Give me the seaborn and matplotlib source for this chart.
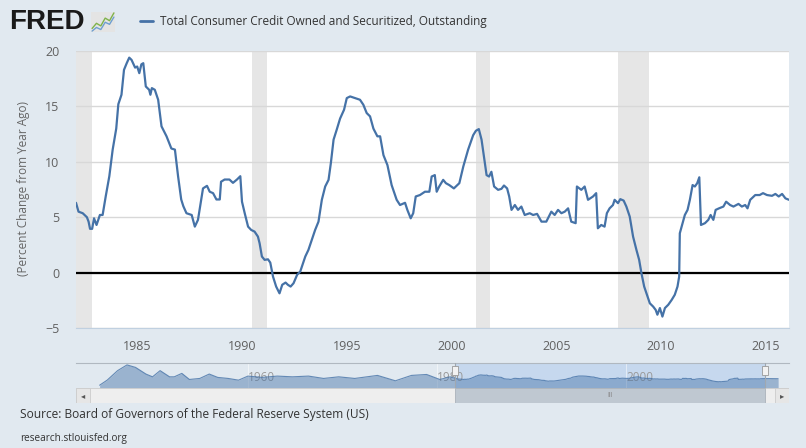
import matplotlib
matplotlib.use("Agg")
import matplotlib.pyplot as plt
import matplotlib.patches as mpatches
import seaborn as sns
import numpy as np
import pandas as pd

# percent change from year ago (decimal years)
years = [1982.08, 1982.2, 1982.4, 1982.6, 1982.68, 1982.75, 1982.85, 1982.94, 1983.06, 1983.22,
         1983.35, 1983.5, 1983.67, 1983.83, 1984.0, 1984.1, 1984.25, 1984.37, 1984.5, 1984.62,
         1984.73, 1984.9, 1985.0, 1985.1, 1985.2, 1985.29, 1985.41, 1985.57, 1985.63, 1985.7,
         1985.84, 1986.0, 1986.16, 1986.4, 1986.63, 1986.8, 1986.95, 1987.1, 1987.2, 1987.35,
         1987.6, 1987.75, 1987.9, 1988.14, 1988.33, 1988.46, 1988.62, 1988.78, 1988.94, 1989.0,
         1989.17, 1989.4, 1989.57, 1989.76, 1989.92, 1990.0, 1990.13, 1990.29, 1990.44, 1990.6,
         1990.76, 1990.84, 1990.95, 1991.08, 1991.24, 1991.35, 1991.48, 1991.63, 1991.79, 1991.92,
         1992.08, 1992.19, 1992.32, 1992.46, 1992.63, 1992.78, 1993.02, 1993.17, 1993.33, 1993.49,
         1993.65, 1993.81, 1993.97, 1994.13, 1994.24, 1994.37, 1994.52, 1994.68, 1994.87, 1995.0,
         1995.16, 1995.4, 1995.63, 1995.79, 1995.95, 1996.11, 1996.27, 1996.46, 1996.59, 1996.75,
         1996.94, 1997.14, 1997.38, 1997.54, 1997.78, 1997.89, 1998.05, 1998.17, 1998.29, 1998.49,
         1998.73, 1998.94, 1999.05, 1999.2, 1999.29, 1999.41, 1999.6, 1999.73, 1999.89, 2000.11,
         2000.37, 2000.56, 2000.79, 2001.03, 2001.16, 2001.3, 2001.43, 2001.54, 2001.67, 2001.79,
         2001.9, 2002.03, 2002.22, 2002.38, 2002.5, 2002.65, 2002.75, 2002.86, 2003.02, 2003.17,
         2003.33, 2003.49, 2003.73, 2003.89, 2004.08, 2004.29, 2004.52, 2004.76, 2004.92, 2005.08,
         2005.24, 2005.4, 2005.56, 2005.71, 2005.92, 2005.98, 2006.19, 2006.35, 2006.51, 2006.75,
         2006.9, 2006.98, 2007.14, 2007.3, 2007.41, 2007.54, 2007.7, 2007.78, 2007.94, 2008.05,
         2008.21, 2008.34, 2008.5, 2008.66, 2008.82, 2008.95, 2009.06, 2009.19, 2009.35, 2009.46,
         2009.62, 2009.74, 2009.82, 2009.94, 2010.06, 2010.18, 2010.34, 2010.5, 2010.65, 2010.78,
         2010.86, 2010.89, 2011.02, 2011.13, 2011.26, 2011.37, 2011.5, 2011.61, 2011.72, 2011.82,
         2011.9, 2012.09, 2012.25, 2012.36, 2012.49, 2012.6, 2012.76, 2012.97, 2013.1, 2013.29,
         2013.45, 2013.69, 2013.85, 2014.01, 2014.12, 2014.25, 2014.49, 2014.7, 2014.86, 2015.05,
         2015.29, 2015.45, 2015.61, 2015.77, 2015.93, 2016.1]
values = [6.3, 5.5, 5.36, 5.0, 4.6, 3.95, 3.95, 4.9, 4.3, 5.2,
          5.2, 6.9, 8.7, 11.1, 13.0, 15.2, 16.05, 18.3, 18.9, 19.4,
          19.2, 18.5, 18.6, 18.0, 18.8, 18.9, 16.8, 16.5, 16.05, 16.65,
          16.5, 15.6, 13.2, 12.3, 11.2, 11.1, 8.7, 6.6, 6.0, 5.36,
          5.2, 4.15, 4.76, 7.6, 7.83, 7.3, 7.17, 6.6, 6.6, 8.2,
          8.4, 8.4, 8.1, 8.4, 8.7, 6.4, 5.36, 4.15, 3.85, 3.7,
          3.25, 2.65, 1.45, 1.15, 1.2, 0.9, -0.36, -1.26, -1.87, -1.1,
          -0.9, -1.1, -1.26, -0.96, -0.2, 0.1, 1.45, 2.05, 2.95, 3.85,
          4.6, 6.57, 7.77, 8.37, 9.88, 12.0, 12.9, 13.9, 14.7, 15.75,
          15.9, 15.75, 15.6, 15.15, 14.4, 14.1, 13.0, 12.3, 12.3, 10.6,
          9.7, 7.9, 6.57, 6.1, 6.3, 5.66, 4.9, 5.36, 6.87, 7.0,
          7.3, 7.3, 8.67, 8.8, 7.3, 7.77, 8.37, 8.07, 7.9, 7.6,
          8.07, 9.58, 11.1, 12.4, 12.8, 12.95, 12.0, 10.5, 8.8, 8.67,
          9.1, 7.77, 7.47, 7.56, 7.86, 7.6, 6.87, 5.66, 6.1, 5.66,
          5.96, 5.2, 5.36, 5.2, 5.3, 4.6, 4.6, 5.5, 5.2, 5.66,
          5.36, 5.5, 5.8, 4.6, 4.46, 7.77, 7.47, 7.77, 6.57, 6.87,
          7.17, 4.0, 4.3, 4.15, 5.36, 5.8, 6.1, 6.57, 6.27, 6.63,
          6.5, 5.96, 5.06, 3.25, 2.05, 1.15, -0.06, -1.26, -2.17, -2.77,
          -3.07, -3.37, -3.8, -3.2, -3.97, -3.2, -2.9, -2.47, -2.0, -1.26,
          -0.36, 3.55, 4.46, 5.2, 5.66, 6.57, 7.9, 7.77, 8.07, 8.6,
          4.3, 4.46, 4.76, 5.2, 4.76, 5.66, 5.8, 5.96, 6.4, 6.1,
          5.96, 6.2, 5.96, 6.1, 5.8, 6.57, 7.0, 7.0, 7.17, 7.0,
          6.93, 7.1, 6.87, 7.1, 6.7, 6.57]

# navigator: earlier history, coarse reading of the mini chart
nav_years = [1944.3, 1945.1, 1946.2, 1947.2, 1948.1, 1949.2, 1949.9, 1950.7, 1951.7, 1952.2,
             1953.0, 1953.8, 1954.9, 1955.9, 1956.8, 1957.9, 1959.0, 1960.0, 1961.5, 1963.1,
             1964.7, 1966.4, 1968.0, 1969.6, 1971.3, 1973.7, 1975.6, 1977.3, 1978.9, 1980.3,
             1981.4]
nav_values = [-15.5, 1.7, 34.0, 53.5, 45.0, 22.4, 13.0, 34.0, 13.0, 13.0,
              24.7, 4.0, 7.5, 22.4, 11.0, 7.5, 1.7, 15.5, 11.0, 15.5,
              13.0, 15.5, 7.5, 13.0, 7.5, 17.8, -0.5, 17.8, 21.0, 4.0,
              13.0]

recessions = [(1981.5, 1982.83), (1990.5, 1991.17), (2001.17, 2001.83), (2007.92, 2009.42)]
xticks = [1985, 1990, 1995, 2000, 2005, 2010, 2015]
yticks = [-5, 0, 5, 10, 15, 20]

series_name = "Total Consumer Credit Owned and Securitized, Outstanding"
ylabel = "(Percent Change from Year Ago)"
source = "Source: Board of Governors of the Federal Reserve System (US)"

bg = "#e1e9f0"
line_color = "#4572a7"
text_color = "#606060"

sns.set_style("white")
plt.rcParams['font.family'] = ['Open Sans', 'DejaVu Sans']

W, H = 806, 448
f = plt.figure(figsize=(W / 100, H / 100), dpi=100, facecolor=bg)


def box(x0, y0, x1, y1):
    # pixel box (top-left origin) -> figure fraction rect
    return [x0 / W, 1 - y1 / H, (x1 - x0) / W, (y1 - y0) / H]


df = pd.DataFrame({"year": years, "value": values})

ax = f.add_axes(box(76, 51, 789, 328))
ax.set_facecolor("white")
for a, b in recessions:
    ax.axvspan(a, b, color="#e6e6e6", lw=0, zorder=0)
for y in yticks:
    ax.axhline(y, color="#d8d8d8", lw=1, zorder=1)
ax.axhline(0, color="black", lw=1.6, zorder=2)
sns.lineplot(data=df, x="year", y="value", ax=ax, color=line_color, lw=1.6, zorder=3)
ax.set_xlim(1982.08, 2016.1)
ax.set_ylim(-5, 20)
ax.set_xticks(xticks)
ax.set_yticks(yticks)
ax.set_xlabel("")
ax.set_ylabel("")
for s in ["top", "right", "left"]:
    ax.spines[s].set_visible(False)
ax.spines["bottom"].set_color("#c0d0e0")
ax.tick_params(axis="x", colors="#c0d0e0", length=6, width=1, direction="out", pad=3,
               labelcolor=text_color, labelsize=9)
ax.tick_params(axis="y", length=0, pad=12, labelcolor=text_color, labelsize=9)

f.text(24 / W, 1 - 189 / H, ylabel, rotation=90, ha="center", va="center",
       color="#666666", fontsize=8.5)

# header: logo and legend
f.text(9 / W, 1 - 22 / H, "FRED", fontsize=20, fontweight="bold", color="#1a1a1a",
       family=["Liberation Sans", "DejaVu Sans"], ha="left", va="center")
icon = f.add_axes(box(91, 12, 115, 32))
icon.set_facecolor("#e4e4e4")
icon.plot([0, 1, 2, 3, 4, 5], [1, 2, 1.5, 3, 2.5, 4], color="#7fb24a", lw=1)
icon.plot([0, 1, 2, 3, 4, 5], [0.5, 1.2, 0.8, 2.2, 1.8, 3.2], color="#6f9fd0", lw=1)
icon.set_xticks([])
icon.set_yticks([])
for s in icon.spines.values():
    s.set_visible(False)
f.add_artist(plt.Line2D([140 / W, 153 / W], [1 - 21 / H, 1 - 21 / H], color=line_color, lw=2))
f.text(160 / W, 1 - 21 / H, series_name, fontsize=8.5, color="#333333", ha="left", va="center")

# navigator
nav = f.add_axes(box(76, 363, 789, 388))
nav.set_facecolor(bg)
nav_x = np.array(nav_years + years)
nav_y = np.array(nav_values + values)
nav.axvspan(1981.9, 2014.7, color="#c6d8ee", lw=0, zorder=0)
nav.fill_between(nav_x, -25, nav_y, color="#4572a7", alpha=0.45, lw=0, zorder=1)
nav.plot(nav_x, nav_y, color="#4572a7", lw=0.8, alpha=0.8, zorder=2)
nav.set_xlim(1941.8, 2017.25)
nav.set_ylim(-25, 60)
nav.set_xticks([1960, 1980, 2000])
nav.set_xticklabels(["1960", "1980", "2000"])
nav.tick_params(axis="x", direction="in", pad=-12, length=0, labelcolor="#999999", labelsize=8.5)
for lab in nav.get_xticklabels():
    lab.set_horizontalalignment("left")
nav.grid(axis="x", color="#ffffff", lw=0.6, alpha=0.6)
nav.set_yticks([])
for s in ["left", "right", "bottom"]:
    nav.spines[s].set_visible(False)
nav.spines["top"].set_color("#b0b8c0")
for hx in [1981.9, 2014.7]:
    nav.axvline(hx, color="#a0a8b0", lw=0.8, zorder=3)
    nav.add_patch(mpatches.Rectangle((hx - 0.35, 20), 0.7, 30, facecolor="#f2f2f2",
                                     edgecolor="#999999", lw=0.6, zorder=4))

# scrollbar
sb = f.add_axes(box(76, 388, 789, 403))
sb.set_xlim(76, 789)
sb.set_ylim(0, 1)
sb.axis("off")
sb.add_patch(mpatches.Rectangle((76, 0), 713, 1, facecolor="#eeeeee", edgecolor="#cccccc", lw=0.6))
sb.add_patch(mpatches.Rectangle((455, 0), 310, 1, facecolor="#bfc8d1", edgecolor="#aab2ba", lw=0.6))
sb.add_patch(mpatches.Rectangle((76, 0), 14, 1, facecolor="#e6e6e6", edgecolor="#cccccc", lw=0.6))
sb.add_patch(mpatches.Rectangle((775, 0), 14, 1, facecolor="#e6e6e6", edgecolor="#cccccc", lw=0.6))
sb.text(83, 0.5, "◂", ha="center", va="center", fontsize=6, color="#555555",
        family=["DejaVu Sans"])
sb.text(782, 0.5, "▸", ha="center", va="center", fontsize=6, color="#555555",
        family=["DejaVu Sans"])
sb.text(610, 0.5, "III", ha="center", va="center", fontsize=5, color="#888888")

f.text(20 / W, 1 - 414 / H, source, fontsize=8.6, color="#333333", ha="left", va="center")
f.text(20 / W, 1 - 438 / H, "research.stlouisfed.org", fontsize=7.2, color="#333333",
       ha="left", va="center")

f.savefig("out.png", dpi=100, facecolor=bg)
